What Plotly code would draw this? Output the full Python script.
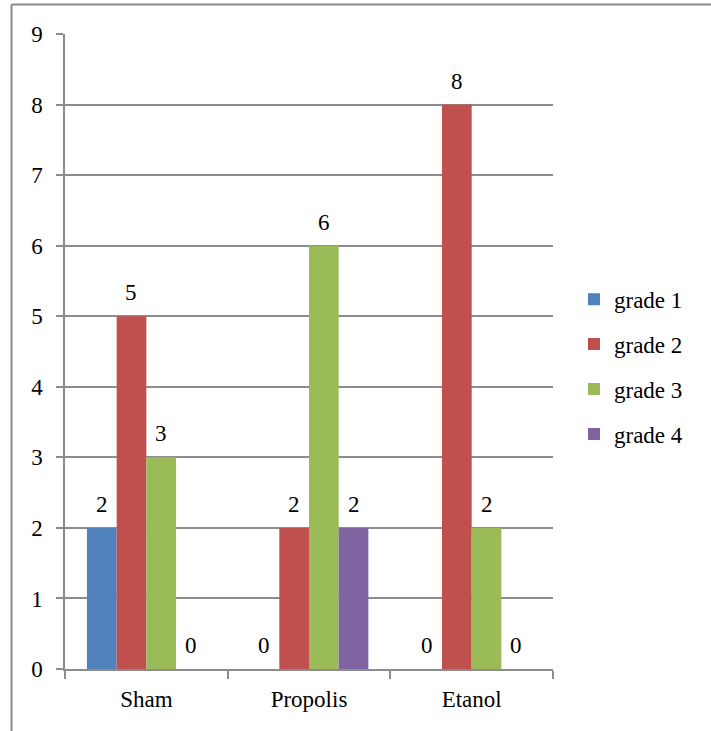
import plotly.graph_objects as go

# Treatment groups and number of cases per histological grade
groups = ["Sham", "Propolis", "Etanol"]
grade_names = ["grade 1", "grade 2", "grade 3", "grade 4"]
grade_1 = [2, 0, 0]
grade_2 = [5, 2, 8]
grade_3 = [3, 6, 2]
grade_4 = [0, 2, 0]
y_ticks = list(range(0, 10))

series = [grade_1, grade_2, grade_3, grade_4]
colors = ["#4F81BD", "#C0504D", "#9BBB59", "#8064A2"]

FONT = "Liberation Serif"
FS = 23
GRID = "#8c8c8c"
BARGAP = 0.27

fig = go.Figure()
for i, (name, vals, col) in enumerate(zip(grade_names, series, colors)):
    fig.add_trace(go.Bar(
        x=groups, y=vals, name=name, marker=dict(color=col, line=dict(width=0)),
        legendgroup=name,
    ))

# value labels centred above each bar
n = len(series)
bw = (1 - BARGAP) / n
for i, vals in enumerate(series):
    for j, v in enumerate(vals):
        fig.add_annotation(
            x=j + (i - (n - 1) / 2) * bw, y=v, xref="x", yref="y",
            text=str(v), showarrow=False, yanchor="bottom", yshift=9,
            font=dict(family=FONT, size=FS, color="black"),
        )

# outer frame of the chart area
fig.add_shape(type="line", xref="paper", yref="paper",
              x0=-0.1096, x1=-0.1096, y0=1.0465, y1=-0.2,
              line=dict(color="#8a8a8a", width=2))
fig.add_shape(type="line", xref="paper", yref="paper",
              x0=-0.1096, x1=1.4, y0=1.0465, y1=1.0465,
              line=dict(color="#8a8a8a", width=2))

fig.update_layout(
    width=711, height=731,
    margin=dict(l=65, r=158, t=34, b=62),
    paper_bgcolor="white", plot_bgcolor="white",
    barmode="group", bargap=BARGAP, bargroupgap=0,
    font=dict(family=FONT, size=FS, color="black"),
    showlegend=True,
    legend=dict(x=1.043, xanchor="left", y=0.476, yanchor="middle",
                traceorder="grouped", tracegroupgap=12,
                font=dict(family=FONT, size=FS, color="black"),
                bgcolor="rgba(0,0,0,0)"),
    xaxis=dict(type="category", tickson="boundaries", ticks="outside",
               ticklen=8, tickcolor=GRID, tickwidth=1.5,
               showline=True, linecolor=GRID, linewidth=1.5,
               showgrid=False, ticklabelstandoff=9,
               tickfont=dict(family=FONT, size=FS)),
    yaxis=dict(range=[0, 9], tickvals=y_ticks, ticks="outside", ticklen=7,
               tickcolor=GRID, tickwidth=1.5, showline=True, linecolor=GRID,
               linewidth=1.5, showgrid=True, gridcolor=GRID, gridwidth=1.5,
               zeroline=False, ticklabelstandoff=9,
               tickfont=dict(family=FONT, size=FS)),
)

fig.write_html("out.html")
